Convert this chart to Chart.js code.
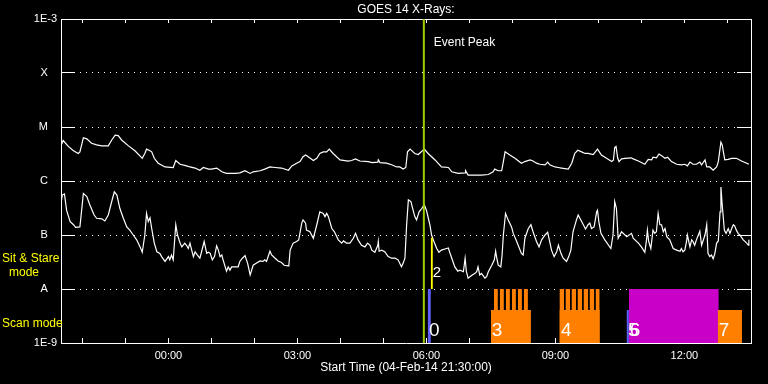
<!DOCTYPE html>
<html>
<head>
<meta charset="utf-8">
<script src="https://cdn.jsdelivr.net/npm/chart.js@4/dist/chart.umd.min.js"></script>
<style>
  html, body { margin: 0; padding: 0; background: #000; }
  #wrap { width: 768px; height: 384px; }
</style>
</head>
<body>
<div id="wrap"><canvas id="chart"></canvas></div>
<script>
// time axis: hours after start (04-Feb-14 21:30), flux as log10(W/m^2)
var hourTicks = [0.5, 1.5, 2.5, 3.5, 4.5, 5.5, 6.5, 7.5, 8.5, 9.5, 10.5, 11.5, 12.5, 13.5, 14.5, 15.5];
var hourLabels = ['', '', '00:00', '', '', '03:00', '', '', '06:00', '', '', '09:00', '', '', '12:00', ''];
var yLevels = [-9, -8, -7, -6, -5, -4, -3];
var yLabels = ['1E-9', 'A', 'B', 'C', 'M', 'X', '1E-3'];

// GOES long channel (upper curve)
var longTime = [0,0.05,0.17,0.29,0.40,0.44,0.52,0.60,0.71,0.83,0.95,1.10,1.18,1.26,1.33,1.41,1.57,1.72,1.89,1.95,
  1.99,2.07,2.11,2.17,2.26,2.42,2.61,2.67,2.77,2.92,3.00,3.12,3.23,3.31,3.43,3.50,3.62,3.66,3.74,3.85,4.05,
  4.16,4.28,4.40,4.47,4.63,4.74,4.86,4.98,5.13,5.29,5.37,5.48,5.56,5.63,5.69,5.75,5.87,5.95,6.02,6.10,
  6.18,6.24,6.33,6.49,6.68,6.76,6.85,6.95,7.15,7.23,7.37,7.38,7.42,7.57,7.69,7.81,7.88,7.96,8.02,8.06,8.12,8.19,8.23,
  8.31,8.45,8.54,8.70,8.85,9.01,9.09,9.24,9.40,9.41,9.47,9.63,9.78,9.94,10.05,10.09,10.17,10.25,10.29,10.33,
  10.44,10.56,10.71,10.79,10.91,10.98,11.06,11.14,11.26,11.32,11.37,11.49,11.57,11.64,11.80,11.88,11.95,12.02,12.11,12.19,12.26,12.38,
  12.48,12.57,12.69,12.81,12.85,12.88,12.91,12.95,12.98,13.04,13.12,13.26,13.31,13.43,13.58,13.66,13.74,13.77,13.85,13.91,
  13.97,14.05,14.11,14.20,14.32,14.43,14.51,14.57,14.63,14.70,14.78,14.86,14.90,14.98,15.02,15.09,15.17,15.25,15.29,15.35,
  15.38,15.44,15.52,15.60,15.71,15.83,15.95,16.00];
var longFlux = [-5.35,-5.25,-5.36,-5.44,-5.49,-5.46,-5.20,-5.22,-5.30,-5.33,-5.35,-5.35,-5.24,-5.15,-5.16,-5.24,-5.35,-5.44,-5.58,-5.49,
  -5.41,-5.44,-5.46,-5.58,-5.67,-5.74,-5.75,-5.62,-5.69,-5.72,-5.74,-5.76,-5.80,-5.75,-5.78,-5.78,-5.76,-5.78,-5.83,-5.86,-5.86,
  -5.85,-5.81,-5.86,-5.83,-5.81,-5.78,-5.74,-5.75,-5.76,-5.80,-5.72,-5.67,-5.64,-5.55,-5.52,-5.55,-5.62,-5.58,-5.49,-5.46,
  -5.46,-5.41,-5.49,-5.61,-5.63,-5.62,-5.59,-5.63,-5.64,-5.66,-5.65,-5.61,-5.66,-5.67,-5.70,-5.74,-5.74,-5.78,-5.75,-5.46,-5.41,-5.46,-5.49,
  -5.51,-5.41,-5.49,-5.61,-5.74,-5.75,-5.83,-5.86,-5.85,-5.81,-5.89,-5.89,-5.89,-5.88,-5.83,-5.78,-5.81,-5.81,-5.64,-5.46,
  -5.52,-5.58,-5.67,-5.64,-5.61,-5.63,-5.67,-5.69,-5.70,-5.65,-5.70,-5.74,-5.75,-5.76,-5.78,-5.67,-5.49,-5.43,-5.46,-5.49,-5.49,-5.51,
  -5.41,-5.52,-5.58,-5.64,-5.61,-5.38,-5.36,-5.58,-5.64,-5.59,-5.58,-5.57,-5.59,-5.63,-5.69,-5.60,-5.61,-5.56,-5.57,-5.50,
  -5.53,-5.58,-5.56,-5.64,-5.69,-5.70,-5.69,-5.72,-5.65,-5.69,-5.69,-5.65,-5.70,-5.61,-5.74,-5.74,-5.80,-5.74,-5.64,-5.28,
  -5.33,-5.61,-5.60,-5.58,-5.58,-5.63,-5.67,-5.69];

// GOES short channel (lower curve)
var shortTime = [0,0.03,0.08,0.13,0.21,0.29,0.34,0.44,0.52,0.60,0.67,0.77,0.83,0.95,1.02,1.10,1.18,1.24,1.30,1.37,
  1.45,1.53,1.60,1.68,1.76,1.84,1.89,1.95,1.99,2.03,2.07,2.11,2.17,2.23,2.30,2.34,2.42,2.50,2.53,2.57,
  2.61,2.67,2.71,2.77,2.81,2.88,2.92,2.96,3.00,3.04,3.08,3.12,3.16,3.23,3.27,3.33,3.39,3.43,3.47,3.52,
  3.57,3.62,3.66,3.70,3.74,3.77,3.85,3.89,3.93,3.97,4.05,
  4.12,4.16,4.22,4.28,4.34,4.40,4.47,4.55,4.63,4.70,4.74,4.78,4.86,4.90,4.98,5.05,5.13,5.19,5.29,5.30,
  5.33,5.40,5.48,5.53,5.60,5.63,5.69,5.71,5.79,5.87,5.95,6.02,6.10,6.14,6.18,6.22,6.30,6.36,6.45,6.53,
  6.57,6.64,6.72,6.80,6.85,6.91,6.99,7.07,7.13,7.19,7.23,7.30,7.37,7.38,7.40,7.46,7.53,7.61,7.69,7.77,
  7.84,7.92,7.96,8.00,8.04,8.08,8.14,8.19,8.23,
  8.27,8.33,8.39,8.45,8.50,8.58,8.62,8.66,8.74,8.79,8.85,8.93,9.01,9.05,9.09,9.16,9.23,9.28,9.36,9.40,
  9.43,9.47,9.55,9.63,9.67,9.70,9.74,9.78,9.86,9.90,9.94,10.02,10.08,10.11,10.13,10.17,10.23,10.26,10.29,10.34,
  10.40,10.48,10.52,10.60,10.71,10.75,10.79,10.87,10.93,10.98,11.06,11.12,11.18,11.26,11.32,11.35,11.41,11.47,11.53,11.57,
  11.63,11.68,11.76,11.81,11.86,11.91,11.99,12.03,12.07,12.15,12.20,12.26,12.30,12.34,12.40,
  12.46,12.48,12.51,12.56,12.65,12.79,12.84,12.88,12.92,12.96,13.04,
  13.16,13.27,13.31,13.43,13.50,13.58,13.62,13.64,13.67,13.72,13.77,13.81,13.85,13.89,13.93,13.97,14.01,14.05,14.09,
  14.16,14.24,14.32,14.40,14.43,14.47,14.51,14.55,14.57,14.63,14.67,14.70,14.74,14.78,14.86,14.90,14.98,15.02,15.05,15.09,
  15.13,15.17,15.21,15.25,15.29,15.33,15.35,15.38,15.43,15.47,15.52,15.56,15.60,15.64,15.67,15.71,15.75,15.79,15.87,15.95,
  15.99,16.00];
var shortFlux = [-6.41,-6.26,-6.24,-6.54,-6.75,-6.81,-6.86,-6.85,-6.23,-6.29,-6.44,-6.63,-6.69,-6.70,-6.74,-6.63,-6.38,-6.20,-6.26,-6.51,
  -6.69,-6.85,-6.91,-7.00,-7.09,-7.22,-7.32,-7.00,-6.60,-6.75,-6.68,-6.88,-7.15,-7.31,-7.34,-7.40,-7.49,-7.40,-7.46,-7.37,
  -7.46,-6.81,-7.00,-7.15,-7.22,-7.15,-7.19,-7.25,-7.15,-7.28,-7.40,-7.31,-7.36,-7.43,-7.31,-7.12,-7.34,-7.32,-7.34,-7.46,
  -7.40,-7.20,-7.28,-7.40,-7.37,-7.46,-7.67,-7.59,-7.65,-7.59,-7.59,
  -7.59,-7.49,-7.43,-7.38,-7.52,-7.74,-7.56,-7.52,-7.48,-7.49,-7.46,-7.49,-7.30,-7.37,-7.43,-7.48,-7.51,-7.56,-7.57,-7.56,
  -7.28,-7.15,-7.12,-7.09,-6.78,-6.72,-6.78,-6.91,-6.94,-7.06,-6.81,-6.57,-6.60,-6.66,-6.60,-6.66,-6.88,-6.94,-7.09,-7.15,
  -7.11,-7.15,-7.15,-7.06,-6.97,-7.09,-7.19,-7.22,-7.15,-7.19,-7.28,-7.32,-7.19,-7.12,-7.30,-7.28,-7.31,-7.40,-7.43,-7.43,
  -7.46,-7.59,-7.52,-7.43,-6.81,-6.35,-6.38,-6.54,-6.66,
  -6.72,-6.57,-6.51,-6.44,-6.54,-6.81,-7.00,-7.09,-7.25,-7.32,-7.28,-7.26,-7.24,-7.34,-7.43,-7.59,-7.67,-7.65,-7.68,-7.43,
  -7.68,-7.80,-7.75,-7.71,-7.68,-7.59,-7.74,-7.71,-7.80,-7.77,-7.68,-7.56,-7.46,-7.30,-7.40,-7.56,-7.59,-7.37,-7.00,-6.60,
  -6.72,-6.85,-6.97,-7.12,-7.34,-7.37,-7.06,-6.88,-6.81,-6.94,-7.12,-7.22,-7.09,-7.00,-6.95,-7.06,-7.28,-7.40,-7.31,-7.19,
  -7.34,-7.43,-7.49,-7.40,-7.28,-6.94,-6.72,-6.63,-6.69,-6.81,-6.89,-6.81,-6.78,-6.88,-6.85,
  -6.57,-6.54,-6.75,-6.97,-7.09,-7.25,-7.00,-6.38,-6.51,-7.06,-6.94,
  -7.03,-6.97,-7.06,-7.15,-7.22,-7.32,-7.09,-6.91,-7.12,-7.25,-6.91,-6.97,-6.94,-6.60,-6.81,-6.81,-6.94,-6.88,-7.03,
  -7.09,-7.25,-7.28,-7.30,-7.25,-7.31,-7.28,-7.12,-7.00,-7.22,-7.09,-7.12,-7.19,-7.09,-6.93,-7.19,-7.00,-6.81,-7.34,-7.40,
  -7.37,-7.44,-7.34,-7.15,-7.11,-6.57,-6.11,-6.44,-6.91,-6.97,-6.88,-6.97,-6.88,-6.81,-6.83,-6.91,-6.97,-7.00,-7.09,-7.15,
  -7.19,-7.09];

// observation blocks: [from, to, top]
var scanBlocks = [[10.00, 10.93, -8.39], [11.60, 12.53, -8.39], [15.28, 15.84, -8.39]];
var stareBlocks = [[10.07, 10.16, -8], [10.21, 10.30, -8], [10.35, 10.44, -8], [10.49, 10.58, -8], [10.63, 10.72, -8], [10.77, 10.86, -8],
  [11.60, 11.70, -8], [11.74, 11.84, -8], [11.88, 11.98, -8], [12.02, 12.12, -8], [12.16, 12.26, -8], [12.30, 12.40, -8], [12.44, 12.53, -8]];
var magentaBlocks = [[13.21, 15.30, -8]];
var blueBlocks = [[8.53, 8.60, -8], [13.16, 13.21, -8.39]];
var yellowBlocks = [[8.60, 8.65, -7.05]];
var eventPeak = 8.44;

var blockNames = ['0', '2', '3', '4', '5', '6', '7'];
var blockNameX = [8.56, 8.65, 10.02, 11.63, 13.19, 13.23, 15.30];
var blockNameY = [-8.78, -7.70, -8.78, -8.78, -8.78, -8.78, -8.78];

Chart.defaults.font.family = "'Liberation Sans', Arial, sans-serif";
Chart.defaults.color = '#fff';

function series(t, v) {
  return t.map(function (x, i) { return {x: x, y: v[i]}; });
}

function blockPath(blocks, base) {
  var pts = [];
  blocks.forEach(function (b) {
    pts.push({x: b[0], y: base}, {x: b[0], y: b[2]}, {x: b[1], y: b[2]}, {x: b[1], y: base});
  });
  return pts;
}

function blockSet(blocks, base, color, fill) {
  return {
    data: blockPath(blocks, base),
    backgroundColor: color,
    borderColor: 'rgba(0,0,0,0)',
    borderWidth: 1,
    pointRadius: 0,
    fill: fill
  };
}

var hourAxisTicks = function (scale) {
  scale.ticks = hourTicks.map(function (v) { return {value: v}; });
};

var textPlugin = {
  id: 'texts',
  afterDatasetsDraw: function (chart) {
    var ctx = chart.ctx, xs = chart.scales.x, ys = chart.scales.y;
    ctx.save();
    ctx.textBaseline = 'middle';
    ctx.textAlign = 'left';
    ctx.fillStyle = '#fff';
    ctx.font = "12px 'Liberation Sans'";
    ctx.fillText('Event Peak', xs.getPixelForValue(eventPeak) + 10, ys.getPixelForValue(-3.44));

    ctx.fillStyle = '#ffff00';
    ctx.fillText('Sit & Stare', 2, ys.getPixelForValue(-7.44));
    ctx.textAlign = 'center';
    ctx.fillText('mode', 24, ys.getPixelForValue(-7.69));
    ctx.textAlign = 'left';
    ctx.fillText('Scan mode', 2, ys.getPixelForValue(-8.65));

    ctx.fillStyle = '#fff';
    blockNames.forEach(function (n, i) {
      ctx.font = (n === '2' ? '15px' : '19px') + " 'Liberation Sans'";
      ctx.fillText(n, xs.getPixelForValue(blockNameX[i]), ys.getPixelForValue(blockNameY[i]));
    });
    ctx.restore();
  }
};

new Chart('chart', {
  type: 'line',
  data: {
    datasets: [
      {data: [{x: eventPeak, y: -9}, {x: eventPeak, y: -3}], borderColor: 'rgb(160,204,0)', borderWidth: 2, pointRadius: 0},
      blockSet(yellowBlocks, -8, '#ffff00', {value: -8}),
      blockSet(blueBlocks, -9, '#6060ff', 'start'),
      blockSet(stareBlocks, -9, '#ff8000', 'start'),
      blockSet(scanBlocks, -9, '#ff8000', 'start'),
      blockSet(magentaBlocks, -9, '#c800c8', 'start'),
      {data: series(longTime, longFlux), borderColor: '#fff', borderWidth: 1.2, pointRadius: 0, fill: false},
      {data: series(shortTime, shortFlux), borderColor: '#fff', borderWidth: 1.2, pointRadius: 0, fill: false}
    ]
  },
  options: {
    responsive: true,
    maintainAspectRatio: false,
    animation: false,
    layout: {padding: 0},
    plugins: {
      legend: {display: false},
      tooltip: {enabled: false},
      title: {
        display: true,
        text: 'GOES 14 X-Rays:',
        color: '#fff',
        fullSize: false,
        font: {size: 12, weight: 'normal', lineHeight: 1.25},
        padding: {top: 2, bottom: 2}
      }
    },
    scales: {
      x: {
        type: 'linear',
        min: 0,
        max: 16.05,
        afterBuildTicks: hourAxisTicks,
        afterFit: function (s) { s.height = 41; s.paddingLeft = 0; s.paddingRight = 0; },
        ticks: {
          color: '#fff',
          font: {size: 11},
          padding: 11,
          maxRotation: 0,
          autoSkip: false,
          callback: function (v, i) { return hourLabels[i]; }
        },
        grid: {drawOnChartArea: false, tickLength: -5, tickColor: '#fff'},
        border: {color: '#fff', width: 1},
        title: {
          display: true,
          text: 'Start Time (04-Feb-14 21:30:00)',
          color: '#fff',
          font: {size: 12},
          padding: {top: 0, bottom: 9}
        }
      },
      x2: {
        type: 'linear',
        position: 'top',
        min: 0,
        max: 16.05,
        afterBuildTicks: hourAxisTicks,
        afterFit: function (s) { s.height = 0; s.paddingLeft = 0; s.paddingRight = 0; },
        ticks: {display: false},
        grid: {drawOnChartArea: false, tickLength: -4, tickColor: '#fff'},
        border: {color: '#fff', width: 1}
      },
      y: {
        type: 'linear',
        min: -9,
        max: -3,
        afterFit: function (s) { s.width = 61; s.paddingTop = 0; s.paddingBottom = 0; },
        ticks: {
          stepSize: 1,
          color: '#fff',
          font: {size: 11},
          padding: 18,
          callback: function (v) {
            var lab = yLabels[yLevels.indexOf(v)];
            return lab.length === 1 ? lab + '   ' : lab;
          }
        },
        grid: {
          color: function (c) { return (c.tick && (c.tick.value === -9 || c.tick.value === -3)) ? 'rgba(0,0,0,0)' : '#fff'; },
          tickColor: '#fff',
          tickLength: -14
        },
        border: {color: '#fff', width: 1, dash: [1, 5]}
      },
      y2: {
        type: 'linear',
        position: 'right',
        min: -9,
        max: -3,
        afterFit: function (s) { s.width = 17; s.paddingTop = 0; s.paddingBottom = 0; },
        ticks: {stepSize: 1, display: false},
        grid: {drawOnChartArea: false, tickColor: '#fff', tickLength: -14},
        border: {color: '#fff', width: 1}
      }
    }
  },
  plugins: [textPlugin]
});
</script>
</body>
</html>
